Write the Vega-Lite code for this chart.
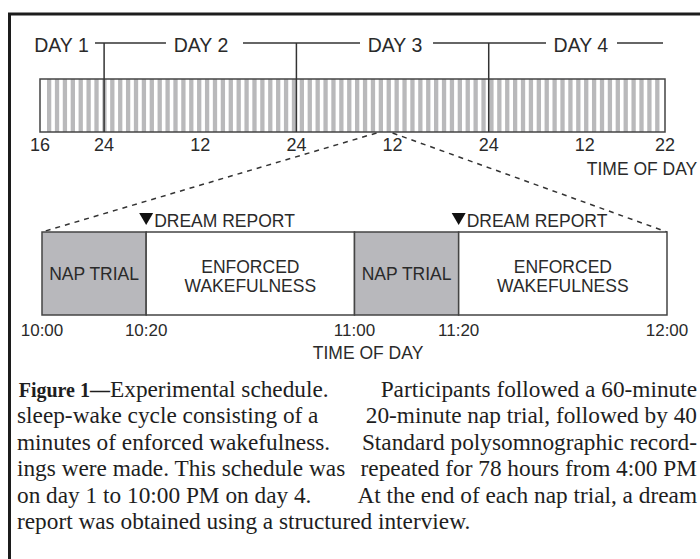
{
  "$schema": "https://vega.github.io/schema/vega-lite/v6.json",
  "width": 700,
  "height": 559,
  "autosize": {"type": "none"},
  "padding": 0,
  "background": "white",
  "config": {"view": {"stroke": null}, "text": {"font": "Liberation Sans", "color": "#2a2a2a"}},
  "resolve": {"scale": {"x": "independent"}},
  "layer": [
    {
      "data": {"values": [{"frame": "figure"}]},
      "mark": {"type": "rect", "fill": "transparent", "stroke": "#1c1c1c", "strokeWidth": 3},
      "encoding": {
        "x": {"datum": -6.24, "type": "quantitative", "scale": {"domain": [-8.064, 126.336], "nice": false, "zero": false}, "axis": null},
        "x2": {"datum": 130},
        "y": {"datum": 14, "type": "quantitative", "scale": {"domain": [0, 559], "nice": false, "zero": false, "reverse": true}, "axis": null},
        "y2": {"datum": 575}
      }
    },
    {
      "data": {"values": [
        {"hour": 0},{"hour": 1},{"hour": 2},{"hour": 3},{"hour": 4},{"hour": 5},{"hour": 6},{"hour": 7},{"hour": 8},{"hour": 9},
        {"hour": 10},{"hour": 11},{"hour": 12},{"hour": 13},{"hour": 14},{"hour": 15},{"hour": 16},{"hour": 17},{"hour": 18},{"hour": 19},
        {"hour": 20},{"hour": 21},{"hour": 22},{"hour": 23},{"hour": 24},{"hour": 25},{"hour": 26},{"hour": 27},{"hour": 28},{"hour": 29},
        {"hour": 30},{"hour": 31},{"hour": 32},{"hour": 33},{"hour": 34},{"hour": 35},{"hour": 36},{"hour": 37},{"hour": 38},{"hour": 39},
        {"hour": 40},{"hour": 41},{"hour": 42},{"hour": 43},{"hour": 44},{"hour": 45},{"hour": 46},{"hour": 47},{"hour": 48},{"hour": 49},
        {"hour": 50},{"hour": 51},{"hour": 52},{"hour": 53},{"hour": 54},{"hour": 55},{"hour": 56},{"hour": 57},{"hour": 58},{"hour": 59},
        {"hour": 60},{"hour": 61},{"hour": 62},{"hour": 63},{"hour": 64},{"hour": 65},{"hour": 66},{"hour": 67},{"hour": 68},{"hour": 69},
        {"hour": 70},{"hour": 71},{"hour": 72},{"hour": 73},{"hour": 74},{"hour": 75},{"hour": 76},{"hour": 77}
      ]},
      "mark": {"type": "bar", "width": 4.3, "xOffset": 4.7, "color": "#b9b9bb"},
      "encoding": {
        "x": {"field": "hour", "type": "quantitative", "scale": {"domain": [-4.992, 82.368], "nice": false, "zero": false}, "axis": null},
        "y": {"datum": 79, "type": "quantitative", "scale": {"domain": [0, 559], "nice": false, "zero": false, "reverse": true}, "axis": null},
        "y2": {"datum": 132}
      }
    },
    {
      "data": {"values": [{"start": 0, "end": 78}]},
      "mark": {"type": "rect", "fill": "transparent", "stroke": "#444444", "strokeWidth": 1.5},
      "encoding": {
        "x": {"field": "start", "type": "quantitative", "scale": {"domain": [-4.992, 82.368], "nice": false, "zero": false}, "axis": null},
        "x2": {"field": "end"},
        "y": {"datum": 79, "type": "quantitative", "scale": {"domain": [0, 559], "nice": false, "zero": false, "reverse": true}, "axis": null},
        "y2": {"datum": 132}
      }
    },
    {
      "data": {"values": [{"hour": 8}, {"hour": 32}, {"hour": 56}]},
      "mark": {"type": "rule", "color": "#333333", "strokeWidth": 1.5},
      "encoding": {
        "x": {"field": "hour", "type": "quantitative", "scale": {"domain": [-4.992, 82.368], "nice": false, "zero": false}, "axis": null},
        "y": {"datum": 43, "type": "quantitative", "scale": {"domain": [0, 559], "nice": false, "zero": false, "reverse": true}, "axis": null},
        "y2": {"datum": 132}
      }
    },
    {
      "data": {"values": [
        {"from": 6.86, "to": 15.72},
        {"from": 25.33, "to": 39.94},
        {"from": 49.05, "to": 63.15},
        {"from": 72.01, "to": 77.75}
      ]},
      "mark": {"type": "rule", "color": "#333333", "strokeWidth": 1.5},
      "encoding": {
        "x": {"field": "from", "type": "quantitative", "scale": {"domain": [-4.992, 82.368], "nice": false, "zero": false}, "axis": null},
        "x2": {"field": "to"},
        "y": {"datum": 43, "type": "quantitative", "scale": {"domain": [0, 559], "nice": false, "zero": false, "reverse": true}, "axis": null}
      }
    },
    {
      "data": {"values": [
        {"hour": 2.68, "label": "DAY 1"},
        {"hour": 20.09, "label": "DAY 2"},
        {"hour": 44.3, "label": "DAY 3"},
        {"hour": 67.5, "label": "DAY 4"}
      ]},
      "mark": {"type": "text", "fontSize": 19.5, "align": "center", "baseline": "middle"},
      "encoding": {
        "x": {"field": "hour", "type": "quantitative", "scale": {"domain": [-4.992, 82.368], "nice": false, "zero": false}, "axis": null},
        "y": {"datum": 46, "type": "quantitative", "scale": {"domain": [0, 559], "nice": false, "zero": false, "reverse": true}, "axis": null},
        "text": {"field": "label"}
      }
    },
    {
      "data": {"values": [
        {"from": 42, "to": 0.25},
        {"from": 44, "to": 78.25}
      ]},
      "mark": {"type": "rule", "color": "#333333", "strokeWidth": 1.5, "strokeDash": [5, 5]},
      "encoding": {
        "x": {"field": "from", "type": "quantitative", "scale": {"domain": [-4.992, 82.368], "nice": false, "zero": false}, "axis": null},
        "x2": {"field": "to"},
        "y": {"datum": 133, "type": "quantitative", "scale": {"domain": [0, 559], "nice": false, "zero": false, "reverse": true}, "axis": null},
        "y2": {"datum": 232}
      }
    },
    {
      "data": {"values": [
        {"hour": 0, "label": "16"},
        {"hour": 8, "label": "24"},
        {"hour": 20, "label": "12"},
        {"hour": 32, "label": "24"},
        {"hour": 44, "label": "12"},
        {"hour": 56, "label": "24"},
        {"hour": 68, "label": "12"},
        {"hour": 78, "label": "22"}
      ]},
      "mark": {"type": "text", "fontSize": 18, "align": "center", "baseline": "middle"},
      "encoding": {
        "x": {"field": "hour", "type": "quantitative", "scale": {"domain": [-4.992, 82.368], "nice": false, "zero": false}, "axis": null},
        "y": {"datum": 146, "type": "quantitative", "scale": {"domain": [0, 559], "nice": false, "zero": false, "reverse": true}, "axis": null},
        "text": {"field": "label"}
      }
    },
    {
      "data": {"values": [{"label": "TIME OF DAY"}]},
      "mark": {"type": "text", "fontSize": 17.5, "align": "center", "baseline": "middle"},
      "encoding": {
        "x": {"datum": 75.13, "type": "quantitative", "scale": {"domain": [-4.992, 82.368], "nice": false, "zero": false}, "axis": null},
        "y": {"datum": 170, "type": "quantitative", "scale": {"domain": [0, 559], "nice": false, "zero": false, "reverse": true}, "axis": null},
        "text": {"field": "label"}
      }
    },
    {
      "data": {"values": [
        {"start": 0, "end": 20, "phase": "nap"},
        {"start": 20, "end": 60, "phase": "wake"},
        {"start": 60, "end": 80, "phase": "nap"},
        {"start": 80, "end": 120, "phase": "wake"}
      ]},
      "mark": {"type": "rect", "stroke": "#444444", "strokeWidth": 1.5},
      "encoding": {
        "x": {"field": "start", "type": "quantitative", "scale": {"domain": [-8.064, 126.336], "nice": false, "zero": false}, "axis": null},
        "x2": {"field": "end"},
        "y": {"datum": 232, "type": "quantitative", "scale": {"domain": [0, 559], "nice": false, "zero": false, "reverse": true}, "axis": null},
        "y2": {"datum": 315},
        "fill": {"field": "phase", "type": "nominal", "scale": {"domain": ["nap", "wake"], "range": ["#b8b8bc", "#ffffff"]}, "legend": null}
      }
    },
    {
      "data": {"values": [
        {"mid": 10, "label": "NAP TRIAL"},
        {"mid": 70, "label": "NAP TRIAL"}
      ]},
      "mark": {"type": "text", "fontSize": 17.5, "align": "center", "baseline": "middle"},
      "encoding": {
        "x": {"field": "mid", "type": "quantitative", "scale": {"domain": [-8.064, 126.336], "nice": false, "zero": false}, "axis": null},
        "y": {"datum": 275, "type": "quantitative", "scale": {"domain": [0, 559], "nice": false, "zero": false, "reverse": true}, "axis": null},
        "text": {"field": "label"}
      }
    },
    {
      "data": {"values": [
        {"mid": 40, "label": ["ENFORCED", "WAKEFULNESS"]},
        {"mid": 100, "label": ["ENFORCED", "WAKEFULNESS"]}
      ]},
      "mark": {"type": "text", "fontSize": 17.5, "align": "center", "baseline": "middle", "lineHeight": 19},
      "encoding": {
        "x": {"field": "mid", "type": "quantitative", "scale": {"domain": [-8.064, 126.336], "nice": false, "zero": false}, "axis": null},
        "y": {"datum": 268, "type": "quantitative", "scale": {"domain": [0, 559], "nice": false, "zero": false, "reverse": true}, "axis": null},
        "text": {"field": "label"}
      }
    },
    {
      "data": {"values": [{"minute": 20, "event": "DREAM REPORT"}, {"minute": 80, "event": "DREAM REPORT"}]},
      "mark": {"type": "point", "shape": "triangle-down", "size": 196, "filled": true, "color": "#111111", "opacity": 1},
      "encoding": {
        "x": {"field": "minute", "type": "quantitative", "scale": {"domain": [-8.064, 126.336], "nice": false, "zero": false}, "axis": null},
        "y": {"datum": 219, "type": "quantitative", "scale": {"domain": [0, 559], "nice": false, "zero": false, "reverse": true}, "axis": null}
      }
    },
    {
      "data": {"values": [{"minute": 20, "event": "DREAM REPORT"}, {"minute": 80, "event": "DREAM REPORT"}]},
      "mark": {"type": "text", "fontSize": 17.5, "align": "left", "baseline": "middle", "dx": 8},
      "encoding": {
        "x": {"field": "minute", "type": "quantitative", "scale": {"domain": [-8.064, 126.336], "nice": false, "zero": false}, "axis": null},
        "y": {"datum": 222, "type": "quantitative", "scale": {"domain": [0, 559], "nice": false, "zero": false, "reverse": true}, "axis": null},
        "text": {"field": "event"}
      }
    },
    {
      "data": {"values": [
        {"minute": 0, "label": "10:00"},
        {"minute": 20, "label": "10:20"},
        {"minute": 60, "label": "11:00"},
        {"minute": 80, "label": "11:20"},
        {"minute": 120, "label": "12:00"}
      ]},
      "mark": {"type": "text", "fontSize": 17, "align": "center", "baseline": "middle"},
      "encoding": {
        "x": {"field": "minute", "type": "quantitative", "scale": {"domain": [-8.064, 126.336], "nice": false, "zero": false}, "axis": null},
        "y": {"datum": 331, "type": "quantitative", "scale": {"domain": [0, 559], "nice": false, "zero": false, "reverse": true}, "axis": null},
        "text": {"field": "label"}
      }
    },
    {
      "data": {"values": [{"label": "TIME OF DAY"}]},
      "mark": {"type": "text", "fontSize": 17.5, "align": "center", "baseline": "middle"},
      "encoding": {
        "x": {"datum": 62.6, "type": "quantitative", "scale": {"domain": [-8.064, 126.336], "nice": false, "zero": false}, "axis": null},
        "y": {"datum": 354, "type": "quantitative", "scale": {"domain": [0, 559], "nice": false, "zero": false, "reverse": true}, "axis": null},
        "text": {"field": "label"}
      }
    },
    {
      "data": {"values": [{"label": "Figure 1—"}]},
      "mark": {"type": "text", "font": "Liberation Serif", "fontWeight": "bold", "fontSize": 20, "align": "right", "baseline": "alphabetic", "color": "#1e1e1e"},
      "encoding": {
        "x": {"datum": 13.056, "type": "quantitative", "scale": {"domain": [-8.064, 126.336], "nice": false, "zero": false}, "axis": null},
        "y": {"datum": 397, "type": "quantitative", "scale": {"domain": [0, 559], "nice": false, "zero": false, "reverse": true}, "axis": null},
        "text": {"field": "label"}
      }
    },
    {
      "data": {"values": [{"label": "Experimental schedule."}]},
      "mark": {"type": "text", "font": "Liberation Serif", "fontSize": 23.3, "align": "left", "baseline": "alphabetic", "color": "#1e1e1e"},
      "encoding": {
        "x": {"datum": 13.056, "type": "quantitative", "scale": {"domain": [-8.064, 126.336], "nice": false, "zero": false}, "axis": null},
        "y": {"datum": 397, "type": "quantitative", "scale": {"domain": [0, 559], "nice": false, "zero": false, "reverse": true}, "axis": null},
        "text": {"field": "label"}
      }
    },
    {
      "data": {"values": [{"lines": ["", "sleep-wake cycle consisting of a", "minutes of enforced wakefulness.", "ings were made. This schedule was", "on day 1 to 10:00 PM on day 4.", "report was obtained using a structured interview."]}]},
      "mark": {"type": "text", "font": "Liberation Serif", "fontSize": 23.3, "align": "left", "baseline": "alphabetic", "lineHeight": 26.4, "color": "#1e1e1e"},
      "encoding": {
        "x": {"datum": -4.8, "type": "quantitative", "scale": {"domain": [-8.064, 126.336], "nice": false, "zero": false}, "axis": null},
        "y": {"datum": 397, "type": "quantitative", "scale": {"domain": [0, 559], "nice": false, "zero": false, "reverse": true}, "axis": null},
        "text": {"field": "lines"}
      }
    },
    {
      "data": {"values": [{"lines": ["Participants followed a 60-minute", "20-minute nap trial, followed by 40", "Standard polysomnographic record-", "repeated for 78 hours from 4:00 PM", "At the end of each nap trial, a dream"]}]},
      "mark": {"type": "text", "font": "Liberation Serif", "fontSize": 23.3, "align": "right", "baseline": "alphabetic", "lineHeight": 26.4, "color": "#1e1e1e"},
      "encoding": {
        "x": {"datum": 125.76, "type": "quantitative", "scale": {"domain": [-8.064, 126.336], "nice": false, "zero": false}, "axis": null},
        "y": {"datum": 397, "type": "quantitative", "scale": {"domain": [0, 559], "nice": false, "zero": false, "reverse": true}, "axis": null},
        "text": {"field": "lines"}
      }
    }
  ]
}
